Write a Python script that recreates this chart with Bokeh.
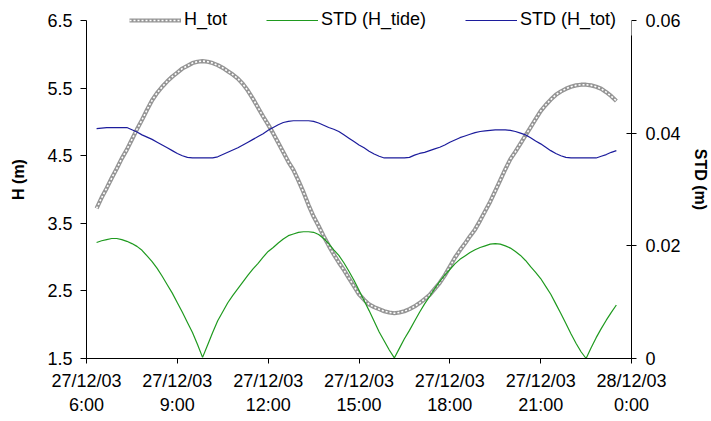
import pandas as pd
from bokeh.plotting import figure
from bokeh.models import (Range1d, LinearAxis, FixedTicker, NumeralTickFormatter,
                          Legend, LegendItem, BoxAnnotation)
from bokeh.embed import file_html
from bokeh.resources import INLINE

# 10-minute samples, 27/12/03 06:20 -> 23:30
start_time = "2003-12-27 06:20"
step = "10min"

# total water level H_tot (m), one row per clock hour
h_tot = [
    3.72, 3.88, 4.02, 4.17,
    4.31, 4.46, 4.59, 4.74, 4.89, 5.03,
    5.18, 5.32, 5.43, 5.52, 5.60, 5.67,
    5.73, 5.79, 5.83, 5.87, 5.89, 5.90,
    5.89, 5.87, 5.84, 5.80, 5.75, 5.70,
    5.64, 5.56, 5.46, 5.34, 5.21, 5.08,
    4.96, 4.83, 4.69, 4.55, 4.41, 4.29,
    4.13, 3.96, 3.77, 3.60, 3.46, 3.31,
    3.17, 3.04, 2.92, 2.81, 2.69, 2.57,
    2.45, 2.37, 2.30, 2.26, 2.23, 2.20,
    2.18, 2.17, 2.18, 2.20, 2.23, 2.27,
    2.32, 2.38, 2.44, 2.53, 2.62, 2.73,
    2.86, 2.99, 3.10, 3.20, 3.31, 3.41,
    3.54, 3.68, 3.82, 3.98, 4.14, 4.30,
    4.45, 4.56, 4.68, 4.80, 4.92, 5.04,
    5.16, 5.25, 5.33, 5.40, 5.45, 5.49,
    5.52, 5.54, 5.55, 5.55, 5.54, 5.52,
    5.49, 5.44, 5.38, 5.31,
]

# standard deviation of the tidal level (m)
std_h_tide = [
    0.0206, 0.0209, 0.0211, 0.0213,
    0.0213, 0.0211, 0.0208, 0.0204, 0.0199, 0.0192,
    0.0182, 0.0172, 0.0160, 0.0146, 0.0131, 0.0116,
    0.0099, 0.0082, 0.0064, 0.0046, 0.0025, 0.0002,
    0.0024, 0.0046, 0.0067, 0.0083, 0.0099, 0.0112,
    0.0124, 0.0136, 0.0148, 0.0159, 0.0169, 0.0180,
    0.0190, 0.0197, 0.0205, 0.0212, 0.0218, 0.0221,
    0.0224, 0.0225, 0.0225, 0.0224, 0.0220, 0.0213,
    0.0204, 0.0193, 0.0183, 0.0170, 0.0155, 0.0139,
    0.0121, 0.0103, 0.0085, 0.0066, 0.0047, 0.0031,
    0.0015, 0.0001, 0.0018, 0.0035, 0.0050, 0.0066,
    0.0082, 0.0097, 0.0110, 0.0124, 0.0137, 0.0148,
    0.0158, 0.0168, 0.0176, 0.0182, 0.0188, 0.0193,
    0.0197, 0.0200, 0.0203, 0.0204, 0.0203, 0.0200,
    0.0196, 0.0190, 0.0183, 0.0174, 0.0163, 0.0153,
    0.0142, 0.0128, 0.0114, 0.0097, 0.0080, 0.0062,
    0.0044, 0.0027, 0.0012, 0.0000, 0.0019, 0.0037,
    0.0053, 0.0068, 0.0082, 0.0095,
]

# standard deviation of the total level (m)
std_h_tot = [
    0.0408, 0.0409, 0.0410, 0.0410,
    0.0410, 0.0410, 0.0410, 0.0406, 0.0402, 0.0397,
    0.0393, 0.0389, 0.0384, 0.0379, 0.0374, 0.0369,
    0.0364, 0.0360, 0.0357, 0.0356, 0.0356, 0.0356,
    0.0356, 0.0356, 0.0358, 0.0362, 0.0366, 0.0370,
    0.0374, 0.0379, 0.0384, 0.0389, 0.0394, 0.0399,
    0.0405, 0.0410, 0.0415, 0.0419, 0.0421, 0.0422,
    0.0422, 0.0422, 0.0422, 0.0421, 0.0418, 0.0414,
    0.0410, 0.0407, 0.0403, 0.0397, 0.0391, 0.0385,
    0.0379, 0.0374, 0.0368, 0.0363, 0.0359, 0.0356,
    0.0356, 0.0356, 0.0356, 0.0356, 0.0357, 0.0361,
    0.0364, 0.0366, 0.0369, 0.0372, 0.0375, 0.0379,
    0.0384, 0.0388, 0.0392, 0.0395, 0.0398, 0.0401,
    0.0403, 0.0404, 0.0405, 0.0406, 0.0406, 0.0406,
    0.0405, 0.0403, 0.0400, 0.0397, 0.0392, 0.0386,
    0.0381, 0.0375, 0.0369, 0.0364, 0.0360, 0.0357,
    0.0356, 0.0356, 0.0356, 0.0356, 0.0356, 0.0356,
    0.0359, 0.0362, 0.0366, 0.0369,
]

x_ticks = ["2003-12-27 06:00", "2003-12-27 09:00", "2003-12-27 12:00",
           "2003-12-27 15:00", "2003-12-27 18:00", "2003-12-27 21:00",
           "2003-12-28 00:00"]
x_tick_labels = ["27/12/03\n6:00", "27/12/03\n9:00", "27/12/03\n12:00",
                 "27/12/03\n15:00", "27/12/03\n18:00", "27/12/03\n21:00",
                 "28/12/03\n0:00"]
h_ticks = [1.5, 2.5, 3.5, 4.5, 5.5, 6.5]
std_ticks = [0, 0.02, 0.04, 0.06]

times = pd.date_range(start_time, periods=len(h_tot), freq=step)
tick_ms = [float(pd.Timestamp(t).value // 10**6) for t in x_ticks]

FONT = "Liberation Sans"
GREY = "#959595"
GREEN = "#1f9a1f"
BLUE = "#1c1c9c"

# the frame reaches the top edge so the legend can sit over the axes' tops;
# both value ranges get a matching headroom of 20 px above their last tick
W, H = 711, 421
LEFT, RIGHT, BOTTOM, HEAD = 86, 80, 63, 20
plot_h = H - BOTTOM - HEAD
px_per_m = plot_h / (h_ticks[-1] - h_ticks[0])
h_top = h_ticks[-1] + HEAD / px_per_m
std_top = std_ticks[-1] + (std_ticks[-1] - std_ticks[0]) * HEAD / plot_h

p = figure(width=W, height=H, output_backend="svg", toolbar_location=None,
           x_axis_type="datetime",
           x_range=Range1d(pd.Timestamp(x_ticks[0]), pd.Timestamp(x_ticks[-1])),
           y_range=Range1d(h_ticks[0], h_top),
           min_border_left=LEFT, min_border_right=RIGHT,
           min_border_top=0, min_border_bottom=BOTTOM)
p.extra_y_ranges = {"std": Range1d(std_ticks[0], std_top)}
p.outline_line_color = None
p.xgrid.visible = False
p.ygrid.visible = False
p.background_fill_color = "white"
p.border_fill_color = "white"

# left axis: water level
yax = p.yaxis[0]
yax.ticker = FixedTicker(ticks=h_ticks)
yax.formatter = NumeralTickFormatter(format="0.0")
yax.bounds = (h_ticks[0], h_ticks[-1])
yax.axis_label = "H (m)"

# right axis: standard deviations
rax = LinearAxis(y_range_name="std", axis_label="STD (m)",
                 ticker=FixedTicker(ticks=std_ticks),
                 formatter=NumeralTickFormatter(format="0.[00]"),
                 bounds=(std_ticks[0], std_ticks[-1]))
p.add_layout(rax, "right")

xax = p.xaxis[0]
xax.ticker = FixedTicker(ticks=tick_ms)
xax.major_label_overrides = dict(zip(tick_ms, x_tick_labels))

for ax in (xax, yax, rax):
    ax.axis_line_color = "black"
    ax.major_tick_line_color = "black"
    ax.minor_tick_line_color = None
    ax.major_label_text_font = FONT
    ax.major_label_text_font_size = "18px"
    ax.major_label_text_color = "black"
    ax.axis_label_text_font = FONT
    ax.axis_label_text_font_size = "16px"
    ax.axis_label_text_font_style = "bold"
    ax.axis_label_text_color = "black"

yax.major_tick_in = 0
yax.major_tick_out = 6
yax.major_label_standoff = 8
yax.axis_label_standoff = 17
rax.major_tick_in = 5
rax.major_tick_out = 5
rax.major_label_standoff = 9
rax.axis_label_standoff = 8
xax.major_tick_in = 0
xax.major_tick_out = 5
xax.major_label_standoff = 7

# H_tot as a chain of small grey rings: grey stroke with a dotted white core
r_tot = p.line(times, h_tot, line_color=GREY, line_width=4.2)
r_tot_core = p.line(times, h_tot, line_color="white", line_width=1.6,
                    line_dash="2 2")
r_tide = p.line(times, std_h_tide, y_range_name="std",
                line_color=GREEN, line_width=1.2)
r_std = p.line(times, std_h_tot, y_range_name="std",
               line_color=BLUE, line_width=1.2)

# the legend's white box hides the top 15 px of the right-hand axis line
mask = BoxAnnotation(left=pd.Timestamp("2003-12-27 23:40"),
                     right=pd.Timestamp("2003-12-28 00:06"),
                     bottom=h_ticks[-1] - 15 / px_per_m, top=h_top,
                     fill_color="white", fill_alpha=1.0, line_color=None,
                     level="annotation")
p.add_layout(mask)

legend = Legend(items=[LegendItem(label="H_tot", renderers=[r_tot, r_tot_core]),
                       LegendItem(label="STD (H_tide)", renderers=[r_tide]),
                       LegendItem(label="STD (H_tot)", renderers=[r_std])],
                orientation="horizontal", location=(43, plot_h + HEAD - 30),
                glyph_width=52, glyph_height=20, label_height=20,
                label_standoff=3, spacing=39, padding=3, margin=0,
                border_line_color=None, background_fill_color="white",
                background_fill_alpha=1.0,
                label_text_font=FONT, label_text_font_size="18px",
                label_text_color="black")
p.add_layout(legend)

open("out.html", "w").write(file_html(p, INLINE))
